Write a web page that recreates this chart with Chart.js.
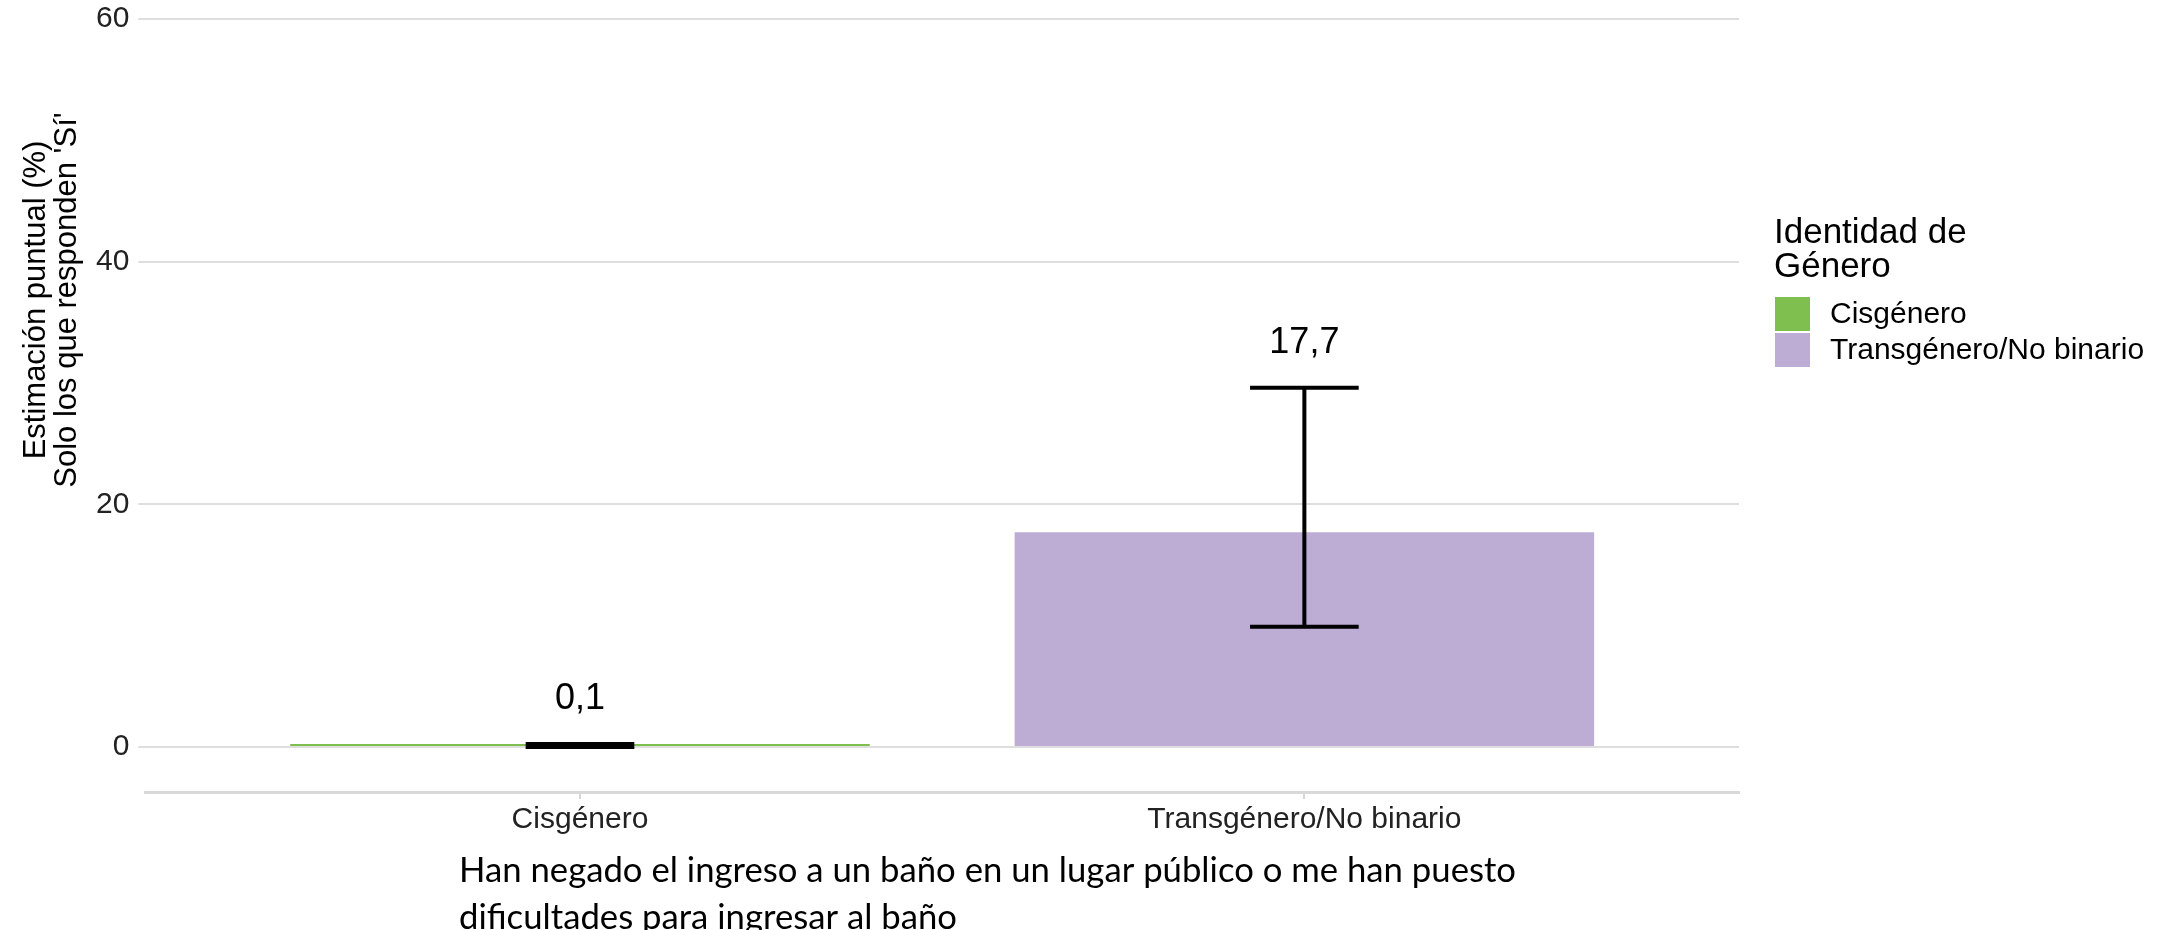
<!DOCTYPE html>
<html>
<head>
<meta charset="utf-8">
<script src="https://cdn.jsdelivr.net/npm/chart.js@4.4.1/dist/chart.umd.min.js"></script>
<style>
  html, body { margin: 0; padding: 0; background: #fff; }
</style>
</head>
<body>
<canvas id="chart" width="2161" height="930"></canvas>
<script>
// values
const categories = ['Cisgénero', 'Transgénero/No binario'];
const estimates = [0.1, 17.7];
const ciLower = [0.0, 9.9];
const ciUpper = [0.25, 29.6];
const valueLabels = ['0,1', '17,7'];
const barColors = ['#7fbf4f', '#bdadd4'];
const yTicks = [0, 20, 40, 60];
const legendTitle = ['Identidad de', 'Género'];
const yTitle = ['Estimación puntual (%)', "Solo los que responden 'Sí'"];
const xTitle = ['Han negado el ingreso a un baño en un lugar público o me han puesto',
                'dificultades para ingresar al baño'];

const sans = "'Liberation Sans', Arial, sans-serif";

// error bars, value labels, legend and axis titles
const extras = {
  id: 'extras',
  afterDatasetsDraw(chart) {
    const ctx = chart.ctx;
    const xs = chart.scales.x, ys = chart.scales.y;
    ctx.save();
    ctx.strokeStyle = '#000';
    ctx.lineWidth = 4;
    categories.forEach((c, i) => {
      const cx = xs.getPixelForValue(i);
      const half = xs.getPixelForValue(i + 0.075) - cx;
      const top = ys.getPixelForValue(ciUpper[i]);
      const bot = ys.getPixelForValue(ciLower[i]);
      ctx.beginPath();
      ctx.moveTo(cx, top); ctx.lineTo(cx, bot);
      ctx.moveTo(cx - half, top); ctx.lineTo(cx + half, top);
      ctx.moveTo(cx - half, bot); ctx.lineTo(cx + half, bot);
      ctx.stroke();

      ctx.fillStyle = '#000';
      ctx.font = '36px ' + sans;
      ctx.textAlign = 'center';
      ctx.textBaseline = 'middle';
      ctx.fillText(valueLabels[i], cx, ys.getPixelForValue(ciUpper[i] + 3.7));
    });
    ctx.restore();
  },
  afterDraw(chart) {
    const ctx = chart.ctx;
    ctx.save();

    // legend
    ctx.fillStyle = '#000';
    ctx.textAlign = 'left';
    ctx.textBaseline = 'alphabetic';
    ctx.font = '35px ' + sans;
    ctx.fillText(legendTitle[0], 1774, 243);
    ctx.fillText(legendTitle[1], 1774, 277);
    categories.forEach((c, i) => {
      const top = 297 + i * 36;
      ctx.fillStyle = barColors[i];
      ctx.fillRect(1775, top, 35, 34);
      ctx.fillStyle = '#000';
      ctx.font = '30px ' + sans;
      ctx.textBaseline = 'middle';
      ctx.fillText(c, 1830, top + 18);
    });

    // y title, two rotated lines
    ctx.font = '31px ' + sans;
    ctx.textAlign = 'center';
    ctx.textBaseline = 'middle';
    [36, 67].forEach((px, i) => {
      ctx.save();
      ctx.translate(px, 300);
      ctx.rotate(-Math.PI / 2);
      ctx.fillText(yTitle[i], 0, 0);
      ctx.restore();
    });

    // x title, narrow font squeezed to the width in the picture
    ctx.font = '35px Lato';
    const sx = 1057 / ctx.measureText(xTitle[0]).width;
    ctx.textAlign = 'left';
    [871, 918].forEach((py, i) => {
      ctx.save();
      ctx.translate(459, py);
      ctx.scale(sx, 1);
      ctx.fillText(xTitle[i], 0, 0);
      ctx.restore();
    });
    ctx.restore();
  }
};

new Chart(document.getElementById('chart'), {
  type: 'bar',
  data: {
    datasets: [{
      data: categories.map((c, i) => ({ x: i, y: estimates[i] })),
      backgroundColor: barColors,
      borderWidth: 0,
      minBarLength: 3,
      barPercentage: 0.8,
      categoryPercentage: 1.0,
    }],
  },
  options: {
    responsive: false,
    animation: false,
    devicePixelRatio: 1,
    layout: { padding: { left: 87, right: 422, top: 19, bottom: 89 } },
    plugins: {
      legend: { display: false },
      tooltip: { enabled: false },
    },
    scales: {
      x: {
        type: 'linear',
        min: -0.6,
        max: 1.6,
        offset: false,
        afterBuildTicks: (s) => { s.ticks = categories.map((c, i) => ({ value: i })); },
        ticks: {
          callback: (v) => categories[v],
          font: { size: 30, family: sans },
          color: '#222',
          padding: 3,
          autoSkip: false,
          maxRotation: 0,
        },
        grid: { offset: false, drawOnChartArea: false, tickLength: 7, color: '#d6d6d6', lineWidth: 2 },
        border: { display: true, color: '#d9d9d9', width: 3 },
      },
      y: {
        min: -3.71,
        max: 60,
        afterBuildTicks: (s) => { s.ticks = yTicks.map((v) => ({ value: v })); },
        // small lineHeight keeps the top label from pushing the plot down
        ticks: { font: { size: 30, family: sans, lineHeight: 0.3 }, color: '#222', padding: 9 },
        grid: { color: '#dedede', lineWidth: 2, tickLength: 7 },
        border: { display: false },
      },
    },
  },
  plugins: [extras],
});
</script>
</body>
</html>
